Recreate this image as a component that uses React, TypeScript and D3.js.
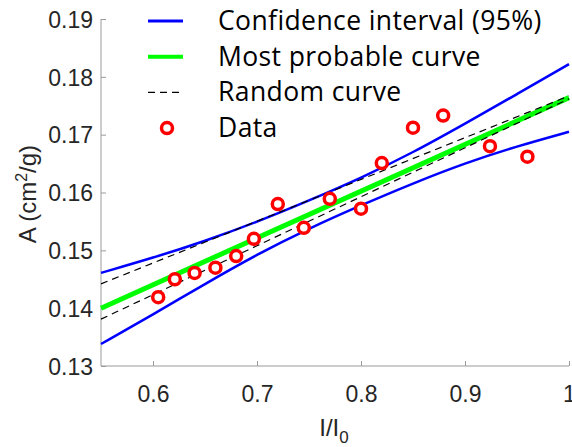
import * as d3 from 'd3'
import { useEffect, useRef } from 'react'

const dataX = [0.605, 0.621, 0.64, 0.66, 0.68, 0.697, 0.72, 0.745, 0.77, 0.8, 0.82, 0.85, 0.879, 0.924, 0.96]
const dataY = [0.1419, 0.145, 0.1461, 0.147, 0.149, 0.152, 0.158, 0.1539, 0.1589, 0.1572, 0.1651, 0.1712, 0.1733, 0.168, 0.1662]

const ciX = [0.55, 0.6, 0.65, 0.7, 0.75, 0.8, 0.85, 0.9, 0.95, 1.0]
const ciUpper = [0.1461, 0.1487, 0.1516, 0.1549, 0.1586, 0.1625, 0.1669, 0.1719, 0.177, 0.1822]
const ciLower = [0.1338, 0.1389, 0.1442, 0.1493, 0.1538, 0.1578, 0.1616, 0.1651, 0.168, 0.1705]

const fitX = [0.55, 1.0]
const bestFit = [0.14, 0.1764]
const randomA = [0.1442, 0.1767]
const randomB = [0.1381, 0.1762]

const xTicks = [0.6, 0.7, 0.8, 0.9, 1]
const yTicks = [0.13, 0.14, 0.15, 0.16, 0.17, 0.18, 0.19]

const legendLabels = ['Confidence interval (95%)', 'Most probable curve', 'Random curve', 'Data']

function App() {
    const ref = useRef<SVGSVGElement>(null)

    useEffect(() => {
        const svg = d3.select(ref.current)
        svg.selectAll('*').remove()

        const x = d3.scaleLinear().domain([0.55, 1]).range([101, 569])
        const y = d3.scaleLinear().domain([0.13, 0.19]).range([366, 19])

        const axisColor = '#9a9a9a'
        const tickFont = 'Liberation Sans, Arial, sans-serif'

        // axes
        const gx = svg.append('g').attr('transform', 'translate(0,366)')
        gx.call(d3.axisBottom(x).tickValues(xTicks).tickSize(-5).tickFormat((d) => String(d)))
        gx.select('.domain').attr('stroke', axisColor).attr('d', `M101,0H569`)
        gx.selectAll('.tick line').attr('stroke', axisColor)
        gx.selectAll('.tick text')
            .attr('y', 36)
            .attr('dy', 0)
            .attr('fill', '#262626')
            .style('font-family', tickFont)
            .style('font-size', '23px')

        const gy = svg.append('g').attr('transform', 'translate(101,0)')
        gy.call(d3.axisLeft(y).tickValues(yTicks).tickSize(-5).tickFormat(d3.format('.2f')))
        gy.select('.domain').attr('stroke', axisColor).attr('d', `M0,19V366`)
        gy.selectAll('.tick line').attr('stroke', axisColor)
        gy.selectAll('.tick text')
            .attr('x', -8)
            .attr('dy', '0.36em')
            .attr('fill', '#262626')
            .style('font-family', tickFont)
            .style('font-size', '23px')

        // lines
        const ciLine = d3
            .line<number>()
            .x((d, i) => x(ciX[i]))
            .y((d) => y(d))
            .curve(d3.curveBasis)
        const straight = d3
            .line<number>()
            .x((d, i) => x(fitX[i]))
            .y((d) => y(d))

        const plot = svg.append('g')
        plot.append('path').attr('d', ciLine(ciUpper)).attr('fill', 'none').attr('stroke', '#0000ff').attr('stroke-width', 2.5)
        plot.append('path').attr('d', ciLine(ciLower)).attr('fill', 'none').attr('stroke', '#0000ff').attr('stroke-width', 2.5)
        plot.append('path').attr('d', straight(bestFit)).attr('fill', 'none').attr('stroke', '#00ff00').attr('stroke-width', 5)
        ;[randomA, randomB].forEach((r) => {
            plot.append('path')
                .attr('d', straight(r))
                .attr('fill', 'none')
                .attr('stroke', '#000')
                .attr('stroke-width', 1.2)
                .attr('stroke-dasharray', '7,5')
        })

        plot.selectAll('circle.pt')
            .data(dataX)
            .enter()
            .append('circle')
            .attr('class', 'pt')
            .attr('cx', (d) => x(d))
            .attr('cy', (d, i) => y(dataY[i]))
            .attr('r', 5.5)
            .attr('fill', 'white')
            .attr('stroke', '#ff0000')
            .attr('stroke-width', 3.5)

        // labels
        svg.append('text')
            .attr('transform', 'translate(36,194) rotate(-90)')
            .attr('text-anchor', 'middle')
            .attr('fill', '#262626')
            .style('font-family', tickFont)
            .style('font-size', '24px')
            .html('A (cm<tspan dy="-9" font-size="16">2</tspan><tspan dy="9">/g)</tspan>')

        svg.append('text')
            .attr('x', 334)
            .attr('y', 436)
            .attr('text-anchor', 'middle')
            .attr('fill', '#262626')
            .style('font-family', tickFont)
            .style('font-size', '24px')
            .html('I/I<tspan dy="7" font-size="17">0</tspan>')

        // legend
        const lg = svg.append('g')
        legendLabels.forEach((label, i) => {
            const cy = 21 + i * 35.7
            if (i < 3) {
                lg.append('line')
                    .attr('x1', 148)
                    .attr('x2', 183)
                    .attr('y1', cy)
                    .attr('y2', cy)
                    .attr('stroke', i === 0 ? '#0000ff' : i === 1 ? '#00ff00' : '#000')
                    .attr('stroke-width', i === 0 ? 3 : i === 1 ? 4 : 1.2)
                    .attr('stroke-dasharray', i === 2 ? '7,5' : null)
            } else {
                lg.append('circle')
                    .attr('cx', 167)
                    .attr('cy', cy)
                    .attr('r', 5.5)
                    .attr('fill', 'white')
                    .attr('stroke', '#ff0000')
                    .attr('stroke-width', 3.5)
            }
            lg.append('text')
                .attr('x', 218)
                .attr('y', cy + 9)
                .attr('fill', '#000')
                .style('font-family', '"Open Sans", sans-serif')
                .style('font-size', '26.5px')
                .style('letter-spacing', '0.4px')
                .text(label)
        })
    }, [])

    return (
        <svg
            ref={ref}
            width={572}
            height={447}
            style={{ position: 'absolute', left: 0, top: 0, background: '#fff' }}
        />
    )
}

export default App
